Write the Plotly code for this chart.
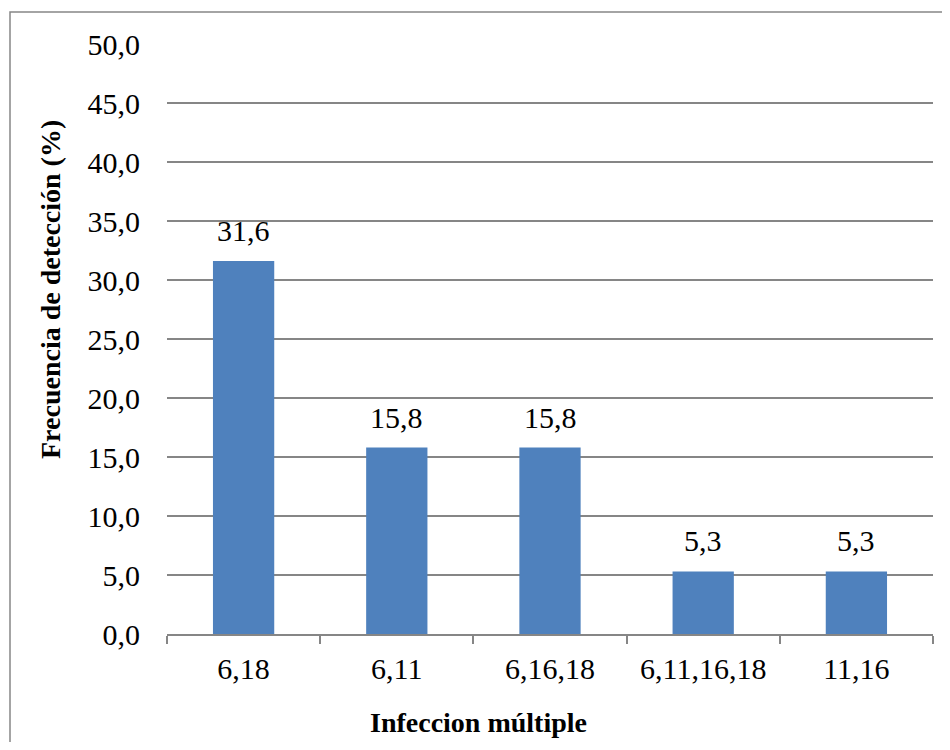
import plotly.graph_objects as go

categories = ["6,18", "6,11", "6,16,18", "6,11,16,18", "11,16"]
values = [31.6, 15.8, 15.8, 5.3, 5.3]
y_ticks = [0, 5, 10, 15, 20, 25, 30, 35, 40, 45, 50]

FONT = "Liberation Serif, Times New Roman, serif"
labels = [f"{v:.1f}".replace(".", ",") for v in values]

# plot area geometry (figure px)
L, T, PW, PH = 159, 36, 766, 590

fig = go.Figure(go.Bar(
    x=categories, y=values,
    marker=dict(color="#4F81BD", line=dict(width=0)),
    width=0.4,
    cliponaxis=False,
))

annotations = [
    dict(x=c, y=v, text=t, showarrow=False, yanchor="bottom", yshift=12,
         font=dict(family=FONT, size=30, color="black"))
    for c, v, t in zip(categories, values, labels)
]
# axis titles placed like the original
annotations.append(dict(
    text="<b>Frecuencia de detección (%)</b>", textangle=-90, showarrow=False,
    xref="paper", yref="paper",
    x=(42 - L) / PW, y=1 - (282 - T) / PH, xanchor="center", yanchor="middle",
    font=dict(family=FONT, size=28, color="black")))
annotations.append(dict(
    text="<b>Infeccion múltiple</b>", showarrow=False,
    xref="paper", yref="paper",
    x=(470 - L) / PW, y=1 - (714 - T) / PH, xanchor="center", yanchor="middle",
    font=dict(family=FONT, size=28, color="black")))

fig.update_layout(
    width=934, height=734,
    margin=dict(l=L, r=934 - L - PW, t=T, b=734 - T - PH),
    paper_bgcolor="white", plot_bgcolor="white",
    font=dict(family=FONT, color="black"),
    separators=",.",
    showlegend=False,
    annotations=annotations,
    xaxis=dict(
        type="category",
        tickson="boundaries",
        ticks="outside", ticklen=8, tickcolor="#868686", tickwidth=1.5,
        showline=True, linecolor="#868686", linewidth=1.5,
        tickfont=dict(size=30, family=FONT),
        ticklabelstandoff=7,
        showgrid=False,
    ),
    yaxis=dict(
        range=[0, 50],
        tickvals=y_ticks,
        tickformat=".1f",
        showgrid=True, gridcolor="#868686", gridwidth=1.5,
        showline=False, zeroline=False,
        ticks="", ticklen=0,
        ticklabelstandoff=26,
        tickfont=dict(size=30, family=FONT),
    ),
    shapes=[dict(type="rect", xref="paper", yref="paper",
                 x0=-157 / PW, x1=1.2, y0=-1.5, y1=1 + 32 / PH,
                 line=dict(color="#868686", width=1.5), fillcolor="rgba(0,0,0,0)", layer="below")],
)

fig.write_html("out.html")
